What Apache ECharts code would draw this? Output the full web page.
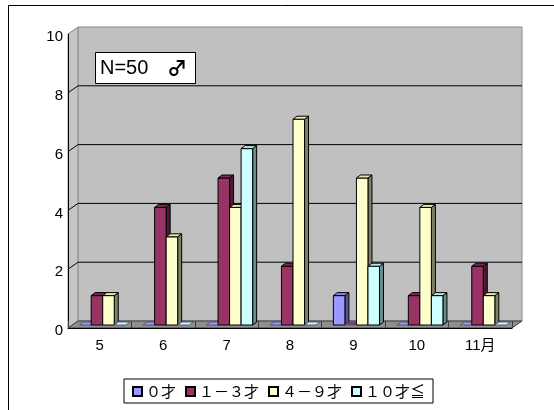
<!DOCTYPE html>
<html>
<head>
<meta charset="utf-8">
<script src="https://cdn.jsdelivr.net/npm/echarts@6.0.0/dist/echarts.min.js"></script>
<style>
  html, body { margin: 0; padding: 0; background: #fff; }
  #chart { width: 554px; height: 410px; }
</style>
</head>
<body>
<div id="chart"></div>
<script>
// Monthly counts by age group
const months = ['5', '6', '7', '8', '9', '10', '11月'];
const age0 = [0, 0, 0, 0, 1, 0, 0];
const age1to3 = [1, 4, 5, 2, 0, 1, 2];
const age4to9 = [1, 3, 4, 7, 5, 4, 1];
const age10up = [0, 0, 6, 0, 2, 1, 0];
const seriesNames = ['０才', '１－３才', '４－９才', '１０才≦'];
const yTicks = [0, 2, 4, 6, 8, 10];

// 3D look: wall depth, bar placement inside the depth, bar thickness
const WALL_DX = 10, WALL_DY = -7;
const BAR_OX = 3, BAR_OY = -3;
const BAR_DX = 4, BAR_DY = -3;
const GAP_RATIO = 1.5;

const palette = [
  { front: '#9999FF', side: '#55558F', top: '#8686E6' },
  { front: '#993366', side: '#4D1A33', top: '#7A2952' },
  { front: '#FFFFCC', side: '#808066', top: '#E6E6B4' },
  { front: '#CCFFFF', side: '#668C8C', top: '#B4E6E6' }
];

const FONT = "'Liberation Sans', 'Noto Sans CJK JP', sans-serif";
const chart = echarts.init(document.getElementById('chart'));

function renderWalls(params, api) {
  const first = api.coord([0, 0]);
  const band = api.size([1, 0])[0];
  const x0 = first[0] - band / 2;
  const x1 = x0 + band * months.length;
  const yBot = first[1];
  const yTop = api.coord([0, yTicks[yTicks.length - 1]])[1];
  const children = [];
  // back wall
  children.push({
    type: 'polygon',
    shape: { points: [[x0 + WALL_DX, yTop + WALL_DY], [x1 + WALL_DX, yTop + WALL_DY], [x1 + WALL_DX, yBot + WALL_DY], [x0 + WALL_DX, yBot + WALL_DY]] },
    style: { fill: '#C0C0C0', stroke: '#8C8C8C', lineWidth: 1 }
  });
  // left side wall
  children.push({
    type: 'polygon',
    shape: { points: [[x0, yTop], [x0 + WALL_DX, yTop + WALL_DY], [x0 + WALL_DX, yBot + WALL_DY], [x0, yBot]] },
    style: { fill: '#C4C4C4', stroke: '#8C8C8C', lineWidth: 1 }
  });
  // grid lines across side wall and back wall
  yTicks.forEach(function (t) {
    if (t === 0 || t === yTicks[yTicks.length - 1]) return;
    const y = api.coord([0, t])[1];
    children.push({
      type: 'polyline',
      shape: { points: [[x0, y], [x0 + WALL_DX, y + WALL_DY], [x1 + WALL_DX, y + WALL_DY]] },
      style: { stroke: '#000', lineWidth: 1, fill: null }
    });
  });
  // floor
  children.push({
    type: 'polygon',
    shape: { points: [[x0, yBot], [x1, yBot], [x1 + WALL_DX, yBot + WALL_DY], [x0 + WALL_DX, yBot + WALL_DY]] },
    style: { fill: '#8F8F8F', stroke: '#3C3C3C', lineWidth: 1 }
  });
  return { type: 'group', children: children };
}

function makeBarRenderer(k) {
  const c = palette[k];
  return function (params, api) {
    const cat = api.value(0);
    const val = api.value(1);
    const band = api.size([1, 0])[0];
    const bw = band / (seriesNames.length + GAP_RATIO);
    const base = api.coord([cat, 0]);
    const top = api.coord([cat, val]);
    const xl = base[0] - band / 2 + bw * GAP_RATIO / 2 + k * bw + BAR_OX;
    const xr = xl + bw;
    const yb = base[1] + BAR_OY;
    const yt = top[1] + BAR_OY;
    const stroke = { stroke: '#000', lineWidth: 1, lineJoin: 'round' };
    const children = [];
    if (yb - yt > 0.5) {
      children.push({
        type: 'polygon',
        shape: { points: [[xr, yt], [xr + BAR_DX, yt + BAR_DY], [xr + BAR_DX, yb + BAR_DY], [xr, yb]] },
        style: Object.assign({ fill: c.side }, stroke)
      });
      children.push({
        type: 'polygon',
        shape: { points: [[xl, yt], [xr, yt], [xr, yb], [xl, yb]] },
        style: Object.assign({ fill: c.front }, stroke)
      });
    }
    children.push({
      type: 'polygon',
      shape: { points: [[xl, yt], [xl + BAR_DX, yt + BAR_DY], [xr + BAR_DX, yt + BAR_DY], [xr, yt]] },
      style: Object.assign({ fill: yb - yt > 0.5 ? c.top : c.front }, { stroke: yb - yt > 0.5 ? '#000' : '#55557A', lineWidth: 1 })
    });
    return { type: 'group', children: children };
  };
}

const valueSets = [age0, age1to3, age4to9, age10up];
const barSeries = valueSets.map(function (vals, k) {
  return {
    name: seriesNames[k],
    type: 'custom',
    z: 3,
    renderItem: makeBarRenderer(k),
    itemStyle: { color: palette[k].front, borderColor: '#000', borderWidth: 1 },
    encode: { x: 0, y: 1 },
    data: vals.map(function (v, i) { return [i, v]; })
  };
});

chart.setOption({
  animation: false,
  backgroundColor: '#fff',
  grid: { left: 68, top: 34, width: 444, height: 294, containLabel: false },
  xAxis: {
    type: 'category',
    data: months,
    boundaryGap: true,
    z: 2,
    axisLine: { show: true, lineStyle: { color: '#000', width: 1 } },
    axisTick: { show: true, inside: true, length: 7, lineStyle: { color: '#3C3C3C' } },
    axisLabel: { margin: 10, color: '#000', fontSize: 15, fontFamily: FONT },
    splitLine: { show: false }
  },
  yAxis: {
    type: 'value',
    min: 0,
    max: 10,
    interval: 2,
    z: 2,
    axisLine: { show: true, lineStyle: { color: '#000', width: 1 } },
    axisTick: { show: false },
    axisLabel: { margin: 5, color: '#000', fontSize: 15, fontFamily: FONT, verticalAlign: 'top', lineHeight: 6 },
    splitLine: { show: false }
  },
  legend: {
    left: 124,
    top: 379,
    icon: 'rect',
    itemWidth: 9,
    itemHeight: 9,
    itemGap: 9,
    padding: [5, 8, 4, 8],
    borderColor: '#000',
    borderWidth: 1,
    backgroundColor: '#fff',
    selectedMode: false,
    data: seriesNames,
    textStyle: { color: '#000', fontSize: 15, fontFamily: "'Noto Sans CJK JP', sans-serif", padding: [1, 0, 0, -1] }
  },
  graphic: [
    {
      type: 'rect',
      shape: { x: 8.5, y: 5.5, width: 600, height: 500 },
      style: { fill: null, stroke: '#000', lineWidth: 1 },
      silent: true
    },
    {
      type: 'group',
      left: 95,
      top: 52,
      children: [
        { type: 'rect', shape: { x: 0.5, y: 0.5, width: 100, height: 31 }, style: { fill: '#fff', stroke: '#000', lineWidth: 1 } },
        { type: 'text', x: 5, y: 16, style: { text: 'N=50', fill: '#000', font: "20px " + FONT, textVerticalAlign: 'middle' } },
        { type: 'text', x: 72, y: 16, style: { text: '♂', fill: '#000', font: "bold 20px 'Noto Sans CJK JP', 'DejaVu Sans', sans-serif", textVerticalAlign: 'middle' } }
      ],
      z: 10
    }
  ],
  series: [
    {
      type: 'custom',
      z: -1,
      silent: true,
      renderItem: renderWalls,
      encode: { x: 0, y: 1 },
      data: [[0, 0]]
    }
  ].concat(barSeries)
});
</script>
</body>
</html>
